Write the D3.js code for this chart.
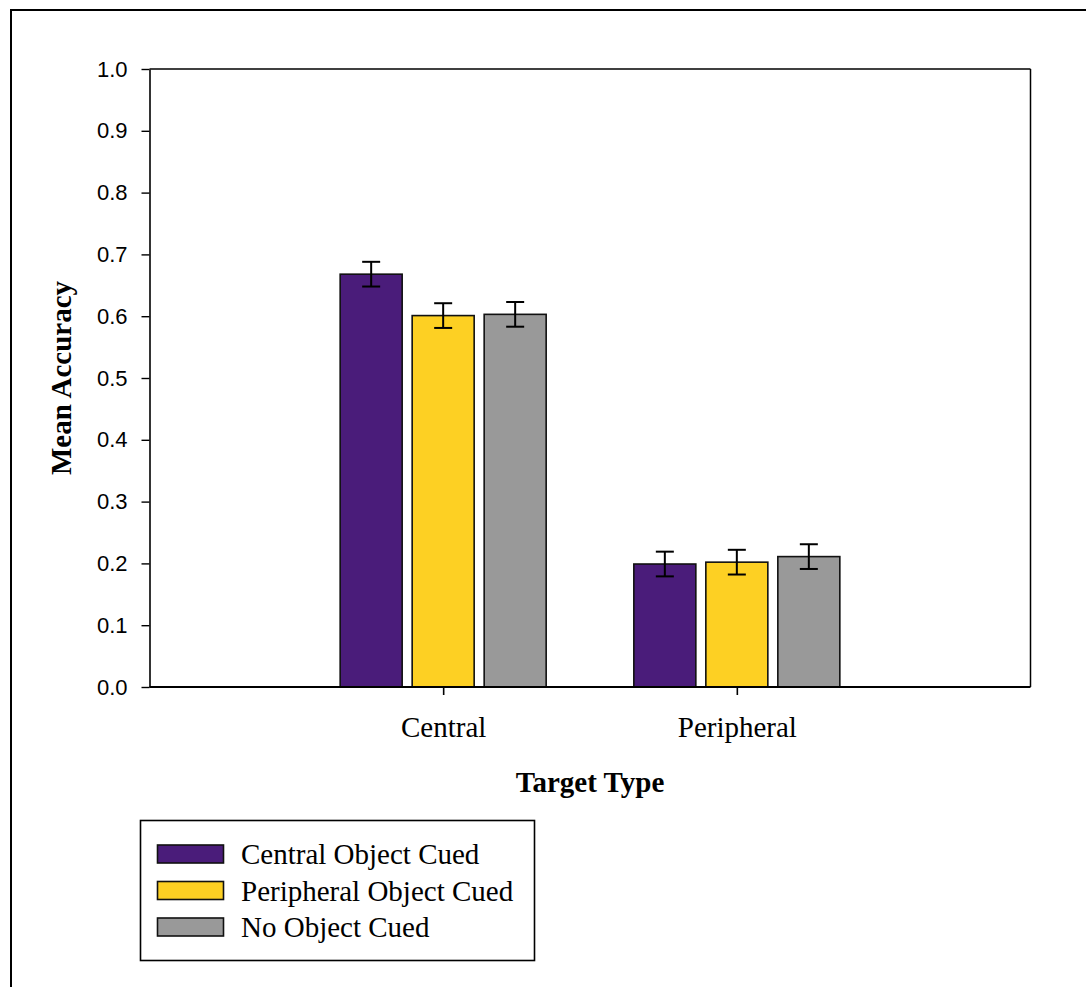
<!DOCTYPE html>
<html>
<head>
<meta charset="utf-8">
<script src="https://cdn.jsdelivr.net/npm/d3@7"></script>
<style>
  html, body { margin: 0; padding: 0; background: #fff; overflow: hidden; }
  svg { display: block; }
</style>
</head>
<body>
<script>
// ---- data ----
const categories = ["Central", "Peripheral"];
const seriesNames = ["Central Object Cued", "Peripheral Object Cued", "No Object Cued"];
const seriesColors = ["#4a1c7a", "#fdd023", "#999999"];
const centralCuedMeans = [0.668, 0.199];
const peripheralCuedMeans = [0.601, 0.202];
const noCuedMeans = [0.603, 0.211];
const centralCuedErr = [0.020, 0.020];
const peripheralCuedErr = [0.020, 0.020];
const noCuedErr = [0.020, 0.020];
const yTicks = [0.0, 0.1, 0.2, 0.3, 0.4, 0.5, 0.6, 0.7, 0.8, 0.9, 1.0];

const seriesMeans = [centralCuedMeans, peripheralCuedMeans, noCuedMeans];
const seriesErr = [centralCuedErr, peripheralCuedErr, noCuedErr];

const W = 1086, H = 987;
const pLeft = 149.5, pRight = 1030.5, pTop = 69, pBottom = 687;

const svg = d3.select("body").append("svg").attr("width", W).attr("height", H);

// outer frame (extends beyond the window on right/bottom)
svg.append("rect").attr("x", 11).attr("y", 10).attr("width", 1200).attr("height", 1200)
  .attr("fill", "none").attr("stroke", "#000").attr("stroke-width", 2);

const x = d3.scalePoint().domain(categories).range([pLeft, pRight]).padding(1);
const xs = d3.scaleBand().domain(seriesNames).range([-103, 103]).paddingInner(10 / 72).paddingOuter(0);
const y = d3.scaleLinear().domain([0, 1]).range([pBottom, pTop]);

// plot frame top & right
svg.append("line").attr("x1", pLeft).attr("x2", pRight).attr("y1", y(1)).attr("y2", y(1))
  .attr("stroke", "#000").attr("stroke-width", 1.5);
svg.append("line").attr("x1", pRight).attr("x2", pRight).attr("y1", y(1)).attr("y2", y(0))
  .attr("stroke", "#000").attr("stroke-width", 1.5);

// bars
const data = [];
categories.forEach((c, ci) => {
  seriesNames.forEach((s, si) => {
    data.push({ c, s, si, v: seriesMeans[si][ci], e: seriesErr[si][ci] });
  });
});

const g = svg.append("g");
g.selectAll("rect.bar").data(data).join("rect")
  .attr("class", "bar")
  .attr("x", d => x(d.c) + xs(d.s))
  .attr("width", xs.bandwidth())
  .attr("y", d => y(d.v))
  .attr("height", d => y(0) - y(d.v))
  .attr("fill", d => seriesColors[d.si])
  .attr("stroke", "#111")
  .attr("stroke-width", 1.6);

// error bars
const eb = g.selectAll("g.err").data(data).join("g").attr("class", "err")
  .attr("transform", d => `translate(${x(d.c) + xs(d.s) + xs.bandwidth() / 2},0)`);
eb.append("line").attr("x1", 0).attr("x2", 0)
  .attr("y1", d => y(d.v + d.e)).attr("y2", d => y(d.v - d.e))
  .attr("stroke", "#000").attr("stroke-width", 2);
eb.append("line").attr("x1", -9).attr("x2", 9)
  .attr("y1", d => y(d.v + d.e)).attr("y2", d => y(d.v + d.e))
  .attr("stroke", "#000").attr("stroke-width", 2);
eb.append("line").attr("x1", -9).attr("x2", 9)
  .attr("y1", d => y(d.v - d.e)).attr("y2", d => y(d.v - d.e))
  .attr("stroke", "#000").attr("stroke-width", 2);

// y axis
const yAxis = svg.append("g").attr("transform", `translate(${pLeft},0)`)
  .call(d3.axisLeft(y).tickValues(yTicks).tickFormat(d3.format(".1f")).tickSize(8).tickSizeOuter(0).tickPadding(14));
yAxis.select(".domain").attr("stroke", "#000").attr("stroke-width", 1.6);
yAxis.selectAll(".tick line").attr("stroke", "#000").attr("stroke-width", 1.4);
yAxis.selectAll(".tick text").attr("font-family", "Liberation Sans, Arial, sans-serif")
  .attr("font-size", 22).attr("fill", "#000");

// x axis
const xAxis = svg.append("g").attr("transform", `translate(0,${pBottom})`)
  .call(d3.axisBottom(x).tickSize(8).tickSizeOuter(0));
xAxis.select(".domain").attr("stroke", "#000").attr("stroke-width", 2).attr("d", `M${pLeft},0H${pRight}`);
xAxis.selectAll(".tick line").attr("stroke", "#000").attr("stroke-width", 1.6);
xAxis.selectAll(".tick text").attr("font-family", "Liberation Serif, Times New Roman, serif")
  .attr("font-size", 29).attr("fill", "#000").attr("dy", null).attr("y", 50);

// axis titles
svg.append("text").attr("x", (pLeft + pRight) / 2).attr("y", 792)
  .attr("text-anchor", "middle").attr("font-family", "Liberation Serif, Times New Roman, serif")
  .attr("font-weight", "bold").attr("font-size", 29).text("Target Type");
svg.append("text").attr("transform", `translate(71,${(pTop + pBottom) / 2}) rotate(-90)`)
  .attr("text-anchor", "middle").attr("font-family", "Liberation Serif, Times New Roman, serif")
  .attr("font-weight", "bold").attr("font-size", 29).text("Mean Accuracy");

// legend
const lg = svg.append("g");
lg.append("rect").attr("x", 140.5).attr("y", 820.5).attr("width", 394).attr("height", 140)
  .attr("fill", "#fff").attr("stroke", "#000").attr("stroke-width", 1.6);
const items = lg.selectAll("g.item").data(seriesNames).join("g").attr("class", "item")
  .attr("transform", (d, i) => `translate(0,${845 + i * 36.5})`);
items.append("rect").attr("x", 157.5).attr("y", 0).attr("width", 66).attr("height", 18)
  .attr("fill", (d, i) => seriesColors[i]).attr("stroke", "#111").attr("stroke-width", 1.6);
items.append("text").attr("x", 241).attr("y", 19)
  .attr("font-family", "Liberation Serif, Times New Roman, serif").attr("font-size", 29)
  .attr("fill", "#000").text(d => d);
</script>
</body>
</html>
